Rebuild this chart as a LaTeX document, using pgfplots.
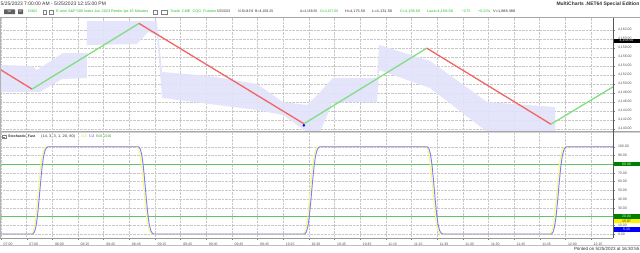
\documentclass[border=0pt]{standalone}
\usepackage{graphicx}
\usepackage{pgfplots}
\pgfplotsset{compat=1.18}
\usepackage{fontspec}
\setmainfont{Liberation Sans}
\definecolor{band}{RGB}{226,226,250}
\definecolor{upgreen}{RGB}{130,222,130}
\definecolor{dnred}{RGB}{242,100,100}
\definecolor{stblue}{RGB}{125,125,250}
\definecolor{styellow}{RGB}{250,250,110}
\definecolor{lvlgreen}{RGB}{100,195,100}
\definecolor{txtgreen}{RGB}{40,190,40}
\definecolor{txtdark}{RGB}{50,50,50}
\definecolor{gridc}{RGB}{200,200,200}
\newcommand{\tf}{\fontsize{3.5}{4}\selectfont}
\newcommand{\hf}{\fontsize{3.6}{4}\selectfont}
\newcommand{\fitw}[2]{\resizebox{#1}{\height}{#2}}
\pgfplotsset{panel/.style={scale only axis, width=613bp, xmin=-0.039, xmax=23.86,
  xtick={0,...,23}, axis line style={draw=none},
  grid=major, grid style={gridc, densely dotted, line width=0.35bp},
  tick align=outside, major tick length=1.5bp, tick style={gray, line width=0.3bp},
  yticklabel pos=right, ytick pos=right, xtick pos=left,
  clip mode=individual,
  /pgf/number format/assume math mode=true,
  ticklabel style={font=\tf, text=txtdark!85},
  yticklabel style={/pgf/number format/fixed, /pgf/number format/fixed zerofill,
    /pgf/number format/precision=2, /pgf/number format/1000 sep={,}}}}
\begin{document}
\begin{tikzpicture}[x=1bp,y=1bp]
\useasboundingbox (0,0) rectangle (640,-252);
\fill[white] (0,0) rectangle (640,-252);

% ---------- upper (price) panel ----------
\begin{axis}[panel, at={(0bp,-131bp)}, anchor=south west, height=113.3bp,
  ymin=4139.49, ymax=4164.67, ytick={4140,4142,...,4162},
  xticklabel={\relax}]
\addplot[fill=band, draw=none, fill opacity=0.9] coordinates {
 (-0.04,4154.16) (1.21,4153.93) (1.40,4153.04) (2.42,4156.82) (3.35,4156.82)
 (3.35,4163.93) (6.08,4163.93) (6.28,4152.6) (8.15,4151.7) (9.98,4149.93)
 (10.99,4145.93) (11.93,4145.27) (12.44,4148.16) (12.94,4151.27) (14.66,4151.27)
 (14.74,4158.6) (16.73,4155.04) (18.95,4145.93) (21.6,4144.82)
 (21.6,4139.3) (18.95,4139.3) (16.73,4149.04) (14.74,4153.04) (14.66,4145.93)
 (12.94,4145.93) (12.44,4139.3) (11.93,4139.3) (10.99,4143.04) (9.98,4144.16)
 (6.28,4146.82) (6.08,4160.82) (5.73,4161.49) (5.3,4158.82) (3.35,4158.6)
 (3.35,4151.27) (2.38,4151.04) (1.52,4148.16) (-0.04,4148.16)} --cycle;
\addplot[dnred, line width=1.3bp] coordinates {(-0.04,4153.2) (1.21,4148.8)};
\addplot[upgreen, line width=1.3bp] coordinates {(1.21,4148.8) (5.38,4163.4)};
\addplot[dnred, line width=1.3bp] coordinates {(5.38,4163.4) (11.81,4141.1)};
\addplot[upgreen, line width=1.3bp] coordinates {(11.81,4141.1) (16.60,4157.9)};
\addplot[dnred, line width=1.3bp] coordinates {(16.60,4157.9) (21.44,4141.0)};
\addplot[upgreen, line width=1.3bp] coordinates {(21.44,4141.0) (23.86,4149.3)};
\addplot[only marks, mark=*, mark size=1.1bp, blue] coordinates {(11.81,4140.75)};
\node[anchor=west, fill=black, text=white, font=\tf, inner sep=0.6bp,
  minimum width=26bp, minimum height=4.4bp, xshift=0.3bp] at (axis cs:23.86,4159.55) {4,158.50};
\end{axis}

% ---------- lower (stochastic) panel ----------
\begin{axis}[panel, at={(0bp,-238bp)}, anchor=south west, height=105bp,
  ymin=-4.58, ymax=115.69, ytick={0,10,30,40,50,60,70,90,100},
  extra y ticks={20,80}, extra y tick labels={},
  extra y tick style={grid=major},
  xticklabels={07:00,07:00,08:00,08:15,08:45,08:45,09:15,09:45,09:45,09:45,09:45,10:15,10:30,10:45,10:45,11:15,11:15,11:30,11:30,11:30,11:45,11:45,12:00,12:15},
  xticklabel style={anchor=north west, xshift=-0.8bp}]
\addplot[lvlgreen, line width=0.6bp] coordinates {(-0.04,80) (23.86,80)};
\addplot[lvlgreen, line width=0.6bp] coordinates {(-0.04,20) (23.86,20)};
\addplot[styellow, line width=0.9bp] coordinates {
 (-0.04,0) (1.18,0) (1.24,2) (1.30,8) (1.36,20) (1.42,38) (1.48,58) (1.54,76) (1.60,89) (1.66,96) (1.72,99) (1.78,100)
 (5.30,100) (5.36,98) (5.42,92) (5.48,80) (5.54,62) (5.60,42) (5.66,24) (5.72,11) (5.78,4) (5.84,1) (5.90,0)
 (11.78,0) (11.84,2) (11.90,8) (11.96,20) (12.02,38) (12.08,58) (12.14,76) (12.20,89) (12.26,96) (12.32,99) (12.38,100)
 (16.56,100) (16.62,98) (16.68,92) (16.74,80) (16.80,62) (16.86,42) (16.92,24) (16.98,11) (17.04,4) (17.10,1) (17.16,0)
 (21.40,0) (21.46,2) (21.52,8) (21.58,20) (21.64,38) (21.70,58) (21.76,76) (21.82,89) (21.88,96) (21.94,99) (22.00,100)
 (23.86,100)};
\addplot[stblue, line width=0.9bp] coordinates {
 (-0.04,0) (1.24,0) (1.30,2) (1.36,8) (1.42,20) (1.48,38) (1.54,58) (1.60,76) (1.66,89) (1.72,96) (1.78,99) (1.84,100)
 (5.36,100) (5.42,98) (5.48,92) (5.54,80) (5.60,62) (5.66,42) (5.72,24) (5.78,11) (5.84,4) (5.90,1) (5.96,0)
 (11.84,0) (11.90,2) (11.96,8) (12.02,20) (12.08,38) (12.14,58) (12.20,76) (12.26,89) (12.32,96) (12.38,99) (12.44,100)
 (16.62,100) (16.68,98) (16.74,92) (16.80,80) (16.86,62) (16.92,42) (16.98,24) (17.04,11) (17.10,4) (17.16,1) (17.22,0)
 (21.46,0) (21.52,2) (21.58,8) (21.64,20) (21.70,38) (21.76,58) (21.82,76) (21.88,89) (21.94,96) (22.00,99) (22.06,100)
 (23.86,100)};
\tikzset{vbox/.style={anchor=west, font=\tf, inner sep=0.6bp, minimum width=26bp, minimum height=4.4bp, xshift=0.3bp}}
\node[vbox, fill={rgb,255:red,0;green,128;blue,0}, text={rgb,255:red,200;green,255;blue,200}] at (axis cs:23.86,80) {80.00};
\node[vbox, fill={rgb,255:red,0;green,128;blue,0}, text={rgb,255:red,200;green,255;blue,200}] at (axis cs:23.86,20) {20.00};
\node[vbox, fill=yellow, text=txtdark] at (axis cs:23.86,15.07) {15.07};
\node[vbox, fill=blue, text=white] at (axis cs:23.86,5.13) {5.13};
\end{axis}

% ---------- frame lines ----------
\draw[gray!70, line width=0.5bp] (0,-17.7) -- (640,-17.7);
\fill[gray!35] (0,-131) rectangle (640,-133.3);
\draw[gray!70, line width=0.4bp] (0,-131) -- (640,-131);
\draw[gray!80, line width=0.5bp] (0,-238) -- (613,-238);
\draw[gray!50, line width=0.4bp] (0,-245.5) -- (640,-245.5);
\draw[gray!60, line width=0.4bp] (0.3,-17.7) -- (0.3,-238);
\draw[gray!70!black, line width=0.5bp] (613,-17.7) -- (613,-238);

% ---------- header ----------
\node[anchor=west, font=\fontsize{5}{6}\selectfont, text=txtdark, inner sep=0] at (0.5,-4) {5/25/2023 7:00:00 AM - 5/25/2023 12:15:00 PM};
\node[anchor=east, font=\fontsize{5}{6}\selectfont\bfseries, text=txtdark, inner sep=0] at (639.5,-3.8) {MultiCharts .NET64 Special Edition};
\fill[gray!75!black, rounded corners=0.5bp] (4,-9.3) rectangle (15,-14.2);
\node[font=\fontsize{2.8}{3}\selectfont, text=white, inner sep=0] at (9.5,-11.75) {SB};
\fill[gray!75!black, rounded corners=0.5bp] (18,-9.3) rectangle (23,-14.2);
\node[font=\fontsize{2.8}{3}\selectfont, text=white, inner sep=0] at (20.5,-11.75) {W};
\draw[gray, line width=0.3bp] (43,-9.8) rectangle (46,-13.7);
\draw[gray, line width=0.3bp] (49,-9.8) rectangle (53,-13.7);
\draw[gray, line width=0.3bp] (153,-9.8) rectangle (157,-13.7);
\draw[gray, line width=0.3bp] (161,-9.8) rectangle (167,-13.7);
\tikzset{hd/.style={anchor=west, font=\hf, inner sep=0}}
\node[hd, text=txtgreen] at (28,-11.7) {\fitw{9bp}{ESM23}};
\node[hd, text=txtgreen] at (56,-11.7) {\fitw{92bp}{E-mini S\&P 500 Index Jun 2023 Renko 1pt 15 Minutes}};
\node[hd, text=txtgreen] at (170,-11.7) {\fitw{46bp}{Trade~~CME~~CQG~~Futures}};
\node[hd, text=txtdark] at (217,-11.7) {\fitw{13bp}{5/25/2023}};
\node[hd, text=txtdark] at (238,-11.7) {\fitw{15bp}{16:30:49.336}};
\node[hd, text=txtdark] at (255,-11.7) {\fitw{18bp}{B=4,158.25}};
\node[hd, text=txtdark] at (300,-11.7) {\fitw{17bp}{A=4,158.50}};
\node[hd, text=txtgreen] at (320,-11.7) {\fitw{18bp}{O=4,157.00}};
\node[hd, text=txtdark] at (345,-11.7) {\fitw{20bp}{H=4,175.50}};
\node[hd, text=txtdark] at (372,-11.7) {\fitw{20bp}{L=4,131.50}};
\node[hd, text=txtgreen] at (400,-11.7) {\fitw{20bp}{C=4,158.50}};
\node[hd, text=txtgreen] at (427,-11.7) {\fitw{26bp}{Last=4,158.50}};
\node[hd, text=txtgreen] at (462,-11.7) {\fitw{8bp}{+0.75}};
\node[hd, text=txtgreen] at (478,-11.7) {\fitw{12bp}{+0.21\%}};
\node[hd, text=txtdark] at (493,-11.7) {\fitw{22bp}{V=1,888,388}};

% ---------- stochastic title ----------
\draw[gray, line width=0.3bp] (2,-134.8) rectangle (6,-138.6);
\draw[gray, line width=0.3bp] (3,-136.7) -- (5,-136.7);
\node[hd, text=txtdark, font=\hf\bfseries] at (8,-136.7) {\fitw{27bp}{Stochastic\_Fast}};
\node[hd, text=txtdark] at (41,-136.7) {\fitw{34bp}{(14, 3, 3, 1, 20, 80)}};
\node[hd, text={rgb,255:red,215;green,215;blue,40}] at (81,-136.7) {\fitw{6bp}{15.07}};
\node[hd, text=blue!80] at (89,-136.7) {\fitw{5bp}{5.13}};
\node[hd, text=txtgreen!80!black] at (96,-136.7) {\fitw{6bp}{80.00}};
\node[hd, text=txtgreen!80!black] at (104,-136.7) {\fitw{7bp}{20.00}};

% ---------- footer ----------
\node[anchor=east, font=\fontsize{4.5}{5}\selectfont, text=txtdark, inner sep=0] at (639.5,-249) {Printed on 5/25/2023 at 16:30:55};
\end{tikzpicture}
\end{document}
